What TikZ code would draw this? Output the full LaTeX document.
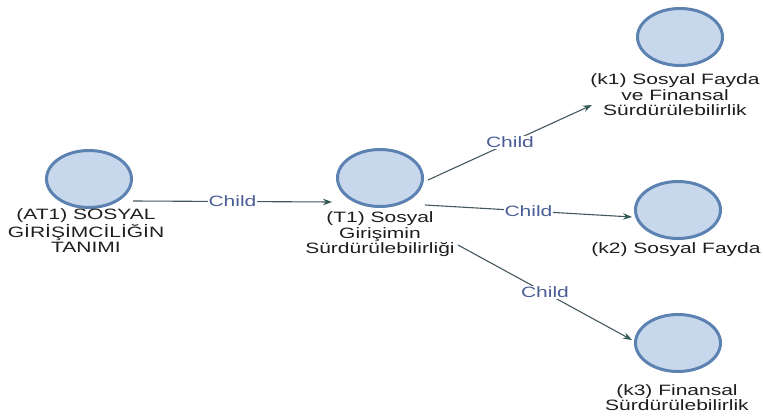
\documentclass[tikz,border=0pt]{standalone}
\usepackage{fontspec}
\usepackage{graphicx}
\setmainfont{Liberation Sans}
\usetikzlibrary{shapes.geometric,arrows.meta,calc}
\definecolor{ringc}{HTML}{5B82B0}
\definecolor{fillc}{HTML}{C8D8EC}
\definecolor{edgec}{HTML}{45585F}
\definecolor{tipc}{HTML}{2F5A55}
\definecolor{childc}{HTML}{4B5E96}
\definecolor{textc}{HTML}{1E1E1E}
\newcommand{\wide}[1]{\scalebox{1.4}[1]{\begin{tabular}{@{}c@{}}#1\end{tabular}}}
\begin{document}
\begin{tikzpicture}[x=1pt,y=-1pt,
  every node/.style={font=\fontsize{15}{15.5}\selectfont},
  bubble/.style={ellipse,draw=ringc,fill=fillc,line width=3pt,minimum width=85pt,minimum height=57pt,inner sep=0pt},
  caption/.style={text=textc,inner sep=0pt,align=center},
  link/.style={draw=edgec,line width=1.1pt,-{Stealth[length=9pt,width=6.5pt,color=tipc]}},
  childlbl/.style={fill=white,text=childc,inner sep=1pt}]
\useasboundingbox (0,0) rectangle (763,420);
\node[bubble] (AT1) at (89,179) {};
\node[bubble] (T1) at (380,178) {};
\node[bubble] (k1) at (680,37) {};
\node[bubble] (k2) at (678,210) {};
\node[bubble] (k3) at (678,343) {};
\node[caption] (AT1l) at (86,233) {\wide{(AT1) SOSYAL\\GİRİŞİMCİLİĞİN\\TANIMI}};
\node[caption] (T1l) at (380,235) {\wide{(T1) Sosyal\\Girişimin\\Sürdürülebilirliği}};
\node[caption] (k1l) at (675,97) {\wide{(k1) Sosyal Fayda\\ve Finansal\\Sürdürülebilirlik}};
\node[caption] (k2l) at (676,250) {\wide{(k2) Sosyal Fayda}};
\node[caption] (k3l) at (677,400) {\wide{(k3) Finansal\\Sürdürülebilirlik}};
\draw[link] ($(AT1.center)+(44,22)$) -- node[childlbl]{\scalebox{1.4}[1]{Child}} ($(T1.center)+(-48,24)$);
\draw[link] ($(T1.center)+(48,2)$) -- node[childlbl]{\scalebox{1.4}[1]{Child}} ($(k1.center)+(-88,68)$);
\draw[link] ($(T1.center)+(45,27)$) -- node[childlbl]{\scalebox{1.4}[1]{Child}} ($(k2.center)+(-46,7)$);
\draw[link] ($(T1.center)+(78,67)$) -- node[childlbl]{\scalebox{1.4}[1]{Child}} ($(k3.center)+(-46,-3)$);
\end{tikzpicture}
\end{document}
